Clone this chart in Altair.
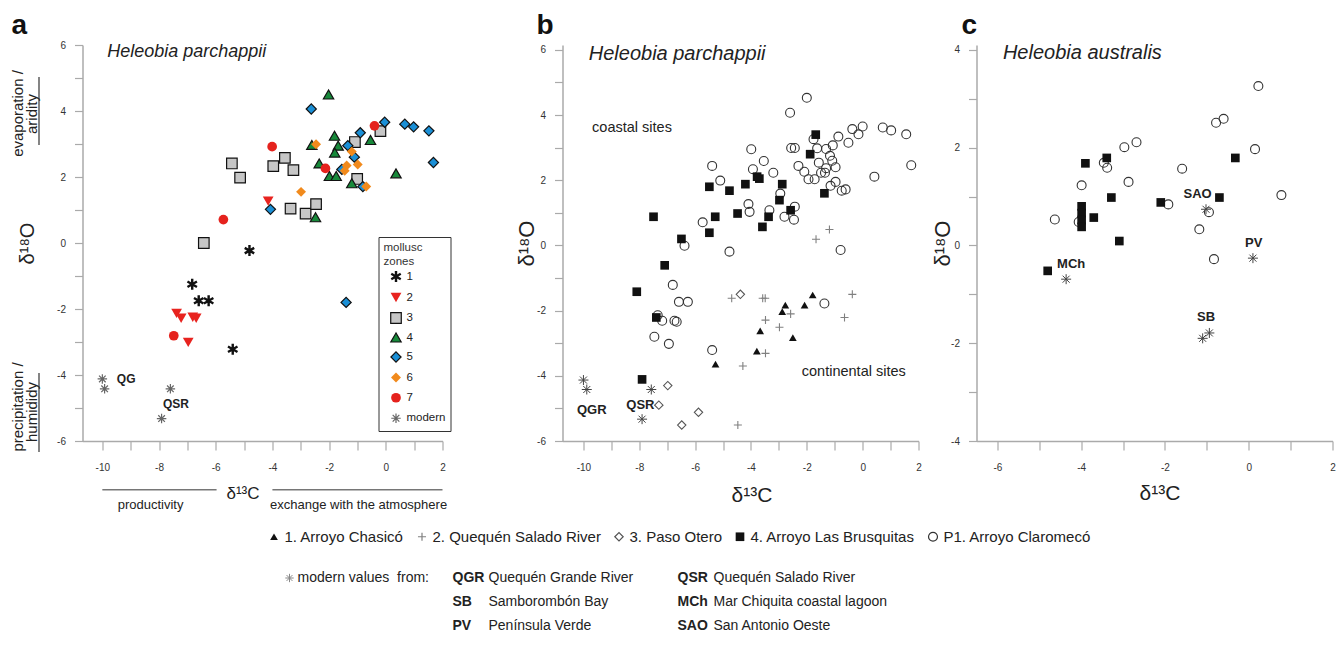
import altair as alt
import pandas as pd

SANS = "Liberation Sans"
AXC = "#aaaaaa"
INK = "#222222"

# ---------------- panel a : Heleobia parchappii, mollusc zones ----------------
a_z1_x = [-4.81, -6.83, -6.60, -6.25, -5.40]
a_z1_y = [-0.23, -1.25, -1.75, -1.75, -3.22]
a_z2_x = [-7.38, -7.22, -6.81, -6.69, -6.97, -4.15]
a_z2_y = [-2.13, -2.28, -2.25, -2.28, -3.01, 1.27]
a_z3_x = [-0.19, -1.09, -1.01, -5.43, -5.14, -3.97, -3.56, -3.26, -3.36, -2.83, -2.46, -6.42]
a_z3_y = [3.39, 3.06, 1.94, 2.41, 1.98, 2.33, 2.58, 2.21, 1.04, 0.89, 1.18, 0.00]
a_z4_x = [-2.02, -0.54, -1.81, -1.68, -2.61, -1.80, -2.35, -1.99, -1.75, -1.20, 0.36, -2.48]
a_z4_y = [4.50, 3.12, 3.25, 2.95, 2.97, 2.74, 2.41, 2.03, 2.03, 1.81, 2.11, 0.78]
a_z5_x = [-2.63, -0.04, 0.67, 0.98, 1.52, 1.68, -0.90, -1.34, -1.11, -1.55, -0.81, -4.07, -1.40]
a_z5_y = [4.06, 3.66, 3.60, 3.52, 3.40, 2.44, 3.34, 2.95, 2.60, 2.23, 1.71, 1.02, -1.80]
a_z6_x = [-2.46, -1.20, -0.99, -1.38, -1.45, -0.69, -2.99]
a_z6_y = [2.99, 2.77, 2.38, 2.35, 2.19, 1.71, 1.55]
a_z7_x = [-4.01, -2.13, -0.40, -5.73, -7.48]
a_z7_y = [2.92, 2.26, 3.55, 0.71, -2.81]
a_mod_x = [-10.00, -9.92, -7.60, -7.91]
a_mod_y = [-4.12, -4.42, -4.42, -5.32]

zone_domain = ["1", "2", "3", "4", "5", "6", "7", "modern"]

# ---------------- panel b : Heleobia parchappii, sites ----------------
b_s1_x = [-1.79, -2.08, -2.77, -2.88, -3.67, -2.50, -3.79, -5.27]
b_s1_y = [-1.52, -1.83, -1.83, -2.03, -2.62, -2.83, -3.24, -3.64]
b_s2_x = [-1.67, -1.19, -4.69, -3.58, -3.49, -0.37, -0.65, -2.58, -3.48, -2.98, -3.48, -4.29, -4.47]
b_s2_y = [0.19, 0.49, -1.62, -1.62, -1.62, -1.50, -2.21, -2.10, -2.29, -2.51, -3.31, -3.70, -5.51]
b_s3_x = [-4.38, -6.98, -7.30, -5.88, -6.48]
b_s3_y = [-1.50, -4.30, -4.90, -5.12, -5.51]
b_s4_x = [-1.68, -1.88, -1.37, -2.88, -2.98, -2.58, -3.70, -3.78, -4.20, -4.77, -5.49,
          -5.28, -5.49, -4.48, -3.37, -3.59, -7.49, -6.49, -7.09, -8.09, -7.39, -7.90]
b_s4_y = [3.40, 2.80, 1.60, 1.88, 1.39, 1.08, 2.05, 2.11, 1.88, 1.68, 1.80,
          0.88, 0.39, 0.98, 0.88, 0.57, 0.88, 0.20, -0.61, -1.42, -2.21, -4.11]
b_p1_x = [-2.00, -2.60, -3.99, -2.56, -2.43, -1.76, -1.63, -1.57, -1.31, -1.17, -1.09, -1.07,
          -0.87, -0.51, -0.37, -0.15, 0.00, 0.72, 1.02, 1.56, 1.74, 0.42, -0.97, -1.31,
          -1.35, -1.49, -0.97, -1.15, -0.75, -0.61, -1.72, -1.94, -2.09, -2.30, -3.20, -3.54,
          -3.93, -5.39, -5.10, -4.09, -4.05, -3.34, -2.95, -2.80, -2.43, -2.46, -0.79, -4.77,
          -5.73, -6.38, -6.80, -6.58, -6.26, -7.34, -7.18, -6.74, -6.66, -7.46, -6.94, -5.39, -1.37]
b_p1_y = [4.53, 4.07, 2.95, 2.99, 2.99, 3.26, 2.98, 2.54, 2.96, 2.75, 2.60, 3.07,
          3.34, 3.15, 3.57, 3.41, 3.65, 3.62, 3.53, 3.41, 2.46, 2.11, 2.40, 2.37,
          2.23, 2.23, 1.95, 1.83, 1.68, 1.72, 2.03, 2.03, 2.26, 2.44, 2.23, 2.59,
          2.34, 2.44, 1.99, 1.27, 1.03, 1.08, 1.59, 0.88, 1.19, 0.79, -0.14, -0.19,
          0.71, -0.01, -1.21, -1.73, -1.73, -2.14, -2.31, -2.31, -2.34, -2.80, -3.02, -3.21, -1.78]
b_mod_x = [-10.00, -9.88, -7.57, -7.90]
b_mod_y = [-4.13, -4.42, -4.42, -5.33]

site_domain = ["1. Arroyo Chasicó", "2. Quequén Salado River", "3. Paso Otero",
               "4. Arroyo Las Brusquitas", "P1. Arroyo Claromecó"]

# ---------------- panel c : Heleobia australis ----------------
c_s4_x = [-3.90, -3.39, -0.32, -3.28, -2.10, -0.70, -3.70, -3.09, -4.80, -3.99, -3.99, -3.99, -3.99]
c_s4_y = [1.68, 1.79, 1.79, 0.98, 0.88, 0.98, 0.57, 0.09, -0.52, 0.80, 0.66, 0.52, 0.38]
c_p1_x = [0.23, -0.78, -0.60, 0.15, 0.78, -1.59, -2.68, -2.97, -3.46, -3.38, -2.87, -3.99,
          -4.63, -4.06, -1.92, -0.95, -1.18, -0.83]
c_p1_y = [3.26, 2.51, 2.59, 1.97, 1.03, 1.57, 2.11, 2.01, 1.69, 1.59, 1.30, 1.23,
          0.53, 0.48, 0.84, 0.68, 0.33, -0.28]
c_mod_x = [-4.36, -1.02, 0.10, -1.10, -0.94]
c_mod_y = [-0.69, 0.74, -0.26, -1.90, -1.79]

# ---------------- modern reference sites ----------------
mod_abbr = ["QGR", "QSR", "SB", "MCh", "PV", "SAO"]
mod_name = ["Quequén Grande River", "Quequén Salado River", "Samborombón Bay",
            "Mar Chiquita coastal lagoon", "Península Verde", "San Antonio Oeste"]

# ---------------- symbols / styles ----------------
ASTER6 = ("M-0.22,-1L0.22,-1L0.22,1L-0.22,1Z"
          "M0.756,-0.691L0.976,-0.31L-0.756,0.691L-0.976,0.31Z"
          "M0.976,0.31L0.756,0.691L-0.976,-0.31L-0.756,-0.691Z")
ASTER8 = "M0,-1L0,1M-1,0L1,0M-0.7,-0.7L0.7,0.7M-0.7,0.7L0.7,-0.7"
PLUS = "M-1,0L1,0M0,-1L0,1"

zone_shape = [ASTER6, "triangle-down", "square", "triangle-up", "diamond", "diamond", "circle", ASTER8]
zone_fill = ["#111111", "#e8231f", "#c6c6c6", "#17893a", "#1a8fd6", "#f18a1c", "#e5221d", "transparent"]
zone_stroke = ["transparent", "transparent", "#111111", "#111111", "#111111", "transparent", "transparent", "#666666"]
zone_size = [120, 90, 85, 95, 72, 80, 95, 30]

site_shape = ["triangle-up", PLUS, "diamond", "square", "circle"]
site_fill = ["#111111", "transparent", "transparent", "#111111", "transparent"]
site_stroke = ["transparent", "#808080", "#555555", "transparent", "#333333"]
site_size = [60, 80, 60, 72, 64]


def rows(groups):
    out = []
    for cat, xs, ys in groups:
        out += [{"x": x, "y": y, "cat": cat} for x, y in zip(xs, ys)]
    return pd.DataFrame(out)


LABEL_EXPR = "datum.value % 2 == 0 ? '' + datum.value : ''"


def xaxis(vals, title, tx, ty, tfs):
    return alt.Axis(values=vals, labelExpr=LABEL_EXPR, title=title, titleX=tx, titleY=ty,
                    titleFontSize=tfs, titleFont=SANS, titleFontWeight="normal", titleColor=INK,
                    titleAlign="center", titleBaseline="middle",
                    tickSize=9, labelPadding=12, labelFontSize=10, labelFont=SANS, labelColor="#333333",
                    domainColor=AXC, domainWidth=1.5, tickColor=AXC, tickWidth=1.2, grid=False,
                    labelFlush=False, labelOverlap=False)


def yaxis(vals, title, tx, ty, tfs):
    return alt.Axis(values=vals, labelExpr=LABEL_EXPR, title=title, titleX=tx, titleY=ty,
                    titleAngle=270, titleFontSize=tfs, titleFont=SANS, titleFontWeight="normal",
                    titleColor=INK, titleAlign="center", titleBaseline="middle",
                    tickSize=8, labelPadding=9, labelFontSize=10, labelFont=SANS, labelColor="#333333",
                    domainColor=AXC, domainWidth=1.5, tickColor=AXC, tickWidth=1.2, grid=False,
                    labelFlush=False, labelOverlap=False)


def texts(df, x, y, **kw):
    kw.setdefault("font", SANS)
    kw.setdefault("color", INK)
    return alt.Chart(df).mark_text(**kw).encode(x=x, y=y, text="t:N")


def pix_text(t, px, py, **kw):
    kw.setdefault("font", SANS)
    kw.setdefault("color", INK)
    return alt.Chart(pd.DataFrame({"t": [t]})).mark_text(**kw).encode(
        text="t:N", x=alt.value(px), y=alt.value(py))


H = 396
LETTER_Y = -10.6
LETTER_FS = 28

# ======================= panel a =======================
WA = 360
XA = alt.X("x:Q", scale=alt.Scale(domain=[-10.7, 2], nice=False, zero=False),
           axis=xaxis(list(range(-10, 3)), "δ¹³C", 160, 52, 17))
YA = alt.Y("y:Q", scale=alt.Scale(domain=[-6, 6], nice=False, zero=False),
           axis=yaxis(list(range(-6, 7)), "δ¹⁸O", -55, 198, 20))

df_a = rows([("3", a_z3_x, a_z3_y), ("4", a_z4_x, a_z4_y), ("5", a_z5_x, a_z5_y),
             ("6", a_z6_x, a_z6_y), ("7", a_z7_x, a_z7_y), ("2", a_z2_x, a_z2_y),
             ("1", a_z1_x, a_z1_y), ("modern", a_mod_x, a_mod_y)])

LEG_A = alt.Legend(title=["mollusc", "zones"], orient="none", legendX=296, legendY=192,
                   strokeColor="#333333", fillColor="#ffffff", padding=5,
                   titleFont=SANS, titleFontSize=11.5, titleFontWeight="normal", titleColor="#333333",
                   titlePadding=3, labelFont=SANS, labelFontSize=11.5, labelColor=INK,
                   labelOffset=4, rowPadding=4.5, symbolOffset=6, symbolStrokeWidth=1.2)

pts_a = alt.Chart(df_a).mark_point(filled=True, opacity=1, strokeWidth=1.2).encode(
    x=XA, y=YA,
    shape=alt.Shape("cat:N", scale=alt.Scale(domain=zone_domain, range=zone_shape), legend=LEG_A),
    fill=alt.Fill("cat:N", scale=alt.Scale(domain=zone_domain, range=zone_fill), legend=LEG_A),
    stroke=alt.Stroke("cat:N", scale=alt.Scale(domain=zone_domain, range=zone_stroke), legend=LEG_A),
    size=alt.Size("cat:N", scale=alt.Scale(domain=zone_domain, range=zone_size), legend=LEG_A),
)

ta_species = texts(pd.DataFrame({"x": [-9.83], "y": [5.78], "t": ["Heleobia parchappii"]}), XA, YA,
                   align="left", baseline="middle", fontSize=18, fontStyle="italic")
ta_bold = texts(pd.DataFrame({"x": [-9.49, -7.86], "y": [-4.12, -4.89], "t": ["QG", "QSR"]}), XA, YA,
                align="left", baseline="middle", fontSize=12, fontWeight="bold")
ta_under = texts(pd.DataFrame({"x": [-8.30, -0.96], "y": [-7.94, -7.94],
                               "t": ["productivity", "exchange with the atmosphere"]}), XA, YA,
                 align="center", baseline="middle", fontSize=13)
ra_under = alt.Chart(pd.DataFrame({"x": [-10.0, -4.0], "x2": [-5.97, 2.0], "y": [-7.48, -7.48]})).mark_rule(
    color="#333333", strokeWidth=1).encode(x=XA, x2="x2:Q", y=YA)

la_letter = pix_text("a", -71, LETTER_Y, align="left", baseline="alphabetic", fontSize=LETTER_FS,
                     fontWeight="bold", color="#111111")
la_evap1 = pix_text("evaporation /", -65, 68.5, angle=270, align="center", baseline="middle", fontSize=15)
la_evap2 = pix_text("aridity", -51, 69, angle=270, align="center", baseline="middle", fontSize=15)
la_prec1 = pix_text("precipitation /", -65, 362, angle=270, align="center", baseline="middle", fontSize=15)
la_prec2 = pix_text("humididy", -51, 367, angle=270, align="center", baseline="middle", fontSize=15)
dummy = pd.DataFrame({"v": [0]})
ra_evap = alt.Chart(dummy).mark_rule(color="#333333", strokeWidth=1.2).encode(
    x=alt.value(-43.5), y=alt.value(32), y2=alt.value(100))
ra_prec = alt.Chart(dummy).mark_rule(color="#333333", strokeWidth=1.2).encode(
    x=alt.value(-43.5), y=alt.value(328), y2=alt.value(407))

panel_a = alt.layer(pts_a, ta_species, ta_bold, ta_under, ra_under, la_letter,
                    la_evap1, la_evap2, la_prec1, la_prec2, ra_evap, ra_prec).properties(width=WA, height=H)

# ======================= panel b =======================
WB = 356
XB = alt.X("x:Q", scale=alt.Scale(domain=[-10.75, 2], nice=False, zero=False),
           axis=xaxis(list(range(-10, 3)), "δ¹³C", 189, 54, 21))
YB = alt.Y("y:Q", scale=alt.Scale(domain=[-6, 6.15], nice=False, zero=False),
           axis=yaxis(list(range(-6, 7)), "δ¹⁸O", -36, 198, 22))

df_b = rows([(site_domain[4], b_p1_x, b_p1_y), (site_domain[1], b_s2_x, b_s2_y),
             (site_domain[2], b_s3_x, b_s3_y), (site_domain[3], b_s4_x, b_s4_y),
             (site_domain[0], b_s1_x, b_s1_y)])

LEG_B = alt.Legend(title=None, orient="none", legendX=-296, legendY=484, direction="horizontal",
                   labelFont=SANS, labelFontSize=15, labelColor=INK, labelOffset=3, labelLimit=400,
                   columnPadding=10, symbolStrokeWidth=1.2, padding=0)

pts_b = alt.Chart(df_b).mark_point(filled=True, opacity=1, strokeWidth=1.1).encode(
    x=XB, y=YB,
    shape=alt.Shape("cat:N", scale=alt.Scale(domain=site_domain, range=site_shape), legend=LEG_B),
    fill=alt.Fill("cat:N", scale=alt.Scale(domain=site_domain, range=site_fill), legend=LEG_B),
    stroke=alt.Stroke("cat:N", scale=alt.Scale(domain=site_domain, range=site_stroke), legend=LEG_B),
    size=alt.Size("cat:N", scale=alt.Scale(domain=site_domain, range=site_size), legend=LEG_B),
)
mod_b = alt.Chart(pd.DataFrame({"x": b_mod_x, "y": b_mod_y})).mark_point(
    shape=ASTER8, size=100, filled=False, color="#444444", strokeWidth=1, opacity=1).encode(x=XB, y=YB)

tb_species = texts(pd.DataFrame({"x": [-9.81], "y": [5.87], "t": ["Heleobia parchappii"]}), XB, YB,
                   align="left", baseline="middle", fontSize=20, fontStyle="italic")
tb_sites = texts(pd.DataFrame({"x": [-9.69, -2.18], "y": [3.61, -3.87],
                               "t": ["coastal sites", "continental sites"]}), XB, YB,
                 align="left", baseline="middle", fontSize=14.5)
tb_bold = texts(pd.DataFrame({"x": [-9.70, -7.96], "y": [-5.05, -4.89], "t": ["QGR", "QSR"]}), XB, YB,
                align="center", baseline="middle", fontSize=13, fontWeight="bold")
lb_letter = pix_text("b", -26, LETTER_Y, align="left", baseline="alphabetic", fontSize=LETTER_FS,
                     fontWeight="bold", color="#111111")

panel_b = alt.layer(pts_b, mod_b, tb_species, tb_sites, tb_bold, lb_letter).properties(width=WB, height=H)

# ======================= panel c =======================
WC = 356
XC = alt.X("x:Q", scale=alt.Scale(domain=[-6.5, 2], nice=False, zero=False),
           axis=xaxis(list(range(-6, 3)), "δ¹³C", 183, 52, 21))
YC = alt.Y("y:Q", scale=alt.Scale(domain=[-4, 4.1], nice=False, zero=False),
           axis=yaxis(list(range(-4, 5)), "δ¹⁸O", -34, 198, 22))

df_c = rows([(site_domain[4], c_p1_x, c_p1_y), (site_domain[3], c_s4_x, c_s4_y)])
pts_c = alt.Chart(df_c).mark_point(filled=True, opacity=1, strokeWidth=1.1).encode(
    x=XC, y=YC,
    shape=alt.Shape("cat:N", scale=alt.Scale(domain=site_domain, range=site_shape), legend=None),
    fill=alt.Fill("cat:N", scale=alt.Scale(domain=site_domain, range=site_fill), legend=None),
    stroke=alt.Stroke("cat:N", scale=alt.Scale(domain=site_domain, range=site_stroke), legend=None),
    size=alt.Size("cat:N", scale=alt.Scale(domain=site_domain, range=site_size), legend=None),
)
mod_c = alt.Chart(pd.DataFrame({"x": c_mod_x, "y": c_mod_y})).mark_point(
    shape=ASTER8, size=100, filled=False, color="#444444", strokeWidth=1, opacity=1).encode(x=XC, y=YC)
tc_species = texts(pd.DataFrame({"x": [-5.87], "y": [3.93], "t": ["Heleobia australis"]}), XC, YC,
                   align="left", baseline="middle", fontSize=20, fontStyle="italic")
tc_bold = texts(pd.DataFrame({"x": [-4.24, -1.22, 0.12, -1.02], "y": [-0.37, 1.05, 0.06, -1.47],
                              "t": ["MCh", "SAO", "PV", "SB"]}), XC, YC,
                align="center", baseline="middle", fontSize=13, fontWeight="bold")
lc_letter = pix_text("c", -15, LETTER_Y, align="left", baseline="alphabetic", fontSize=LETTER_FS,
                     fontWeight="bold", color="#111111")

panel_c = alt.layer(pts_c, mod_c, tc_species, tc_bold, lc_letter).properties(width=WC, height=H)

# ======================= spacer & bottom key =======================
spacer = alt.Chart(dummy).mark_point(opacity=0).encode(
    x=alt.X("v:Q", axis=None), y=alt.Y("v:Q", axis=None)).properties(width=4, height=H)

HB = 150
key_df = pd.DataFrame({"abbr": mod_abbr, "name": mod_name,
                       "col": [i % 2 for i in range(len(mod_abbr))],
                       "row": [i // 2 for i in range(len(mod_abbr))]})
KX = alt.X("col:Q", scale=alt.Scale(domain=[-1.6444, -0.0444], nice=False, zero=False), axis=None)
KY = alt.Y("row:Q", scale=alt.Scale(domain=[-5.0417, 1.2083], nice=False, zero=False, reverse=True), axis=None)
key_abbr = alt.Chart(key_df).mark_text(align="left", baseline="middle", font=SANS, fontSize=14,
                                       fontWeight="bold", color=INK).encode(x=KX, y=KY, text="abbr:N")
key_name = alt.Chart(key_df).mark_text(align="left", baseline="middle", font=SANS, fontSize=14,
                                       color=INK, dx=36).encode(x=KX, y=KY, text="name:N")
key_star = alt.Chart(dummy).mark_point(shape=ASTER8, size=70, filled=False, color="#888888",
                                       strokeWidth=1, opacity=1).encode(x=alt.value(207), y=alt.value(121))
key_head = pix_text("modern values\u00a0 from:", 215, 121, align="left", baseline="middle", fontSize=14)
bottom = alt.layer(key_abbr, key_name, key_star, key_head).properties(width=WA, height=HB)

chart = alt.concat(panel_a, spacer, panel_b, panel_c, bottom, columns=4,
                   spacing={"row": 16, "column": 58}, bounds="flush").resolve_scale(
    x="independent", y="independent", shape="independent", fill="independent",
    stroke="independent", size="independent").resolve_legend(
    shape="independent", fill="independent", stroke="independent", size="independent"
).configure_view(stroke=None).properties(
    padding={"left": 2.5, "top": 4, "right": 0, "bottom": 0})

chart.save("out.html", embed_options={"renderer": "svg", "actions": False})
